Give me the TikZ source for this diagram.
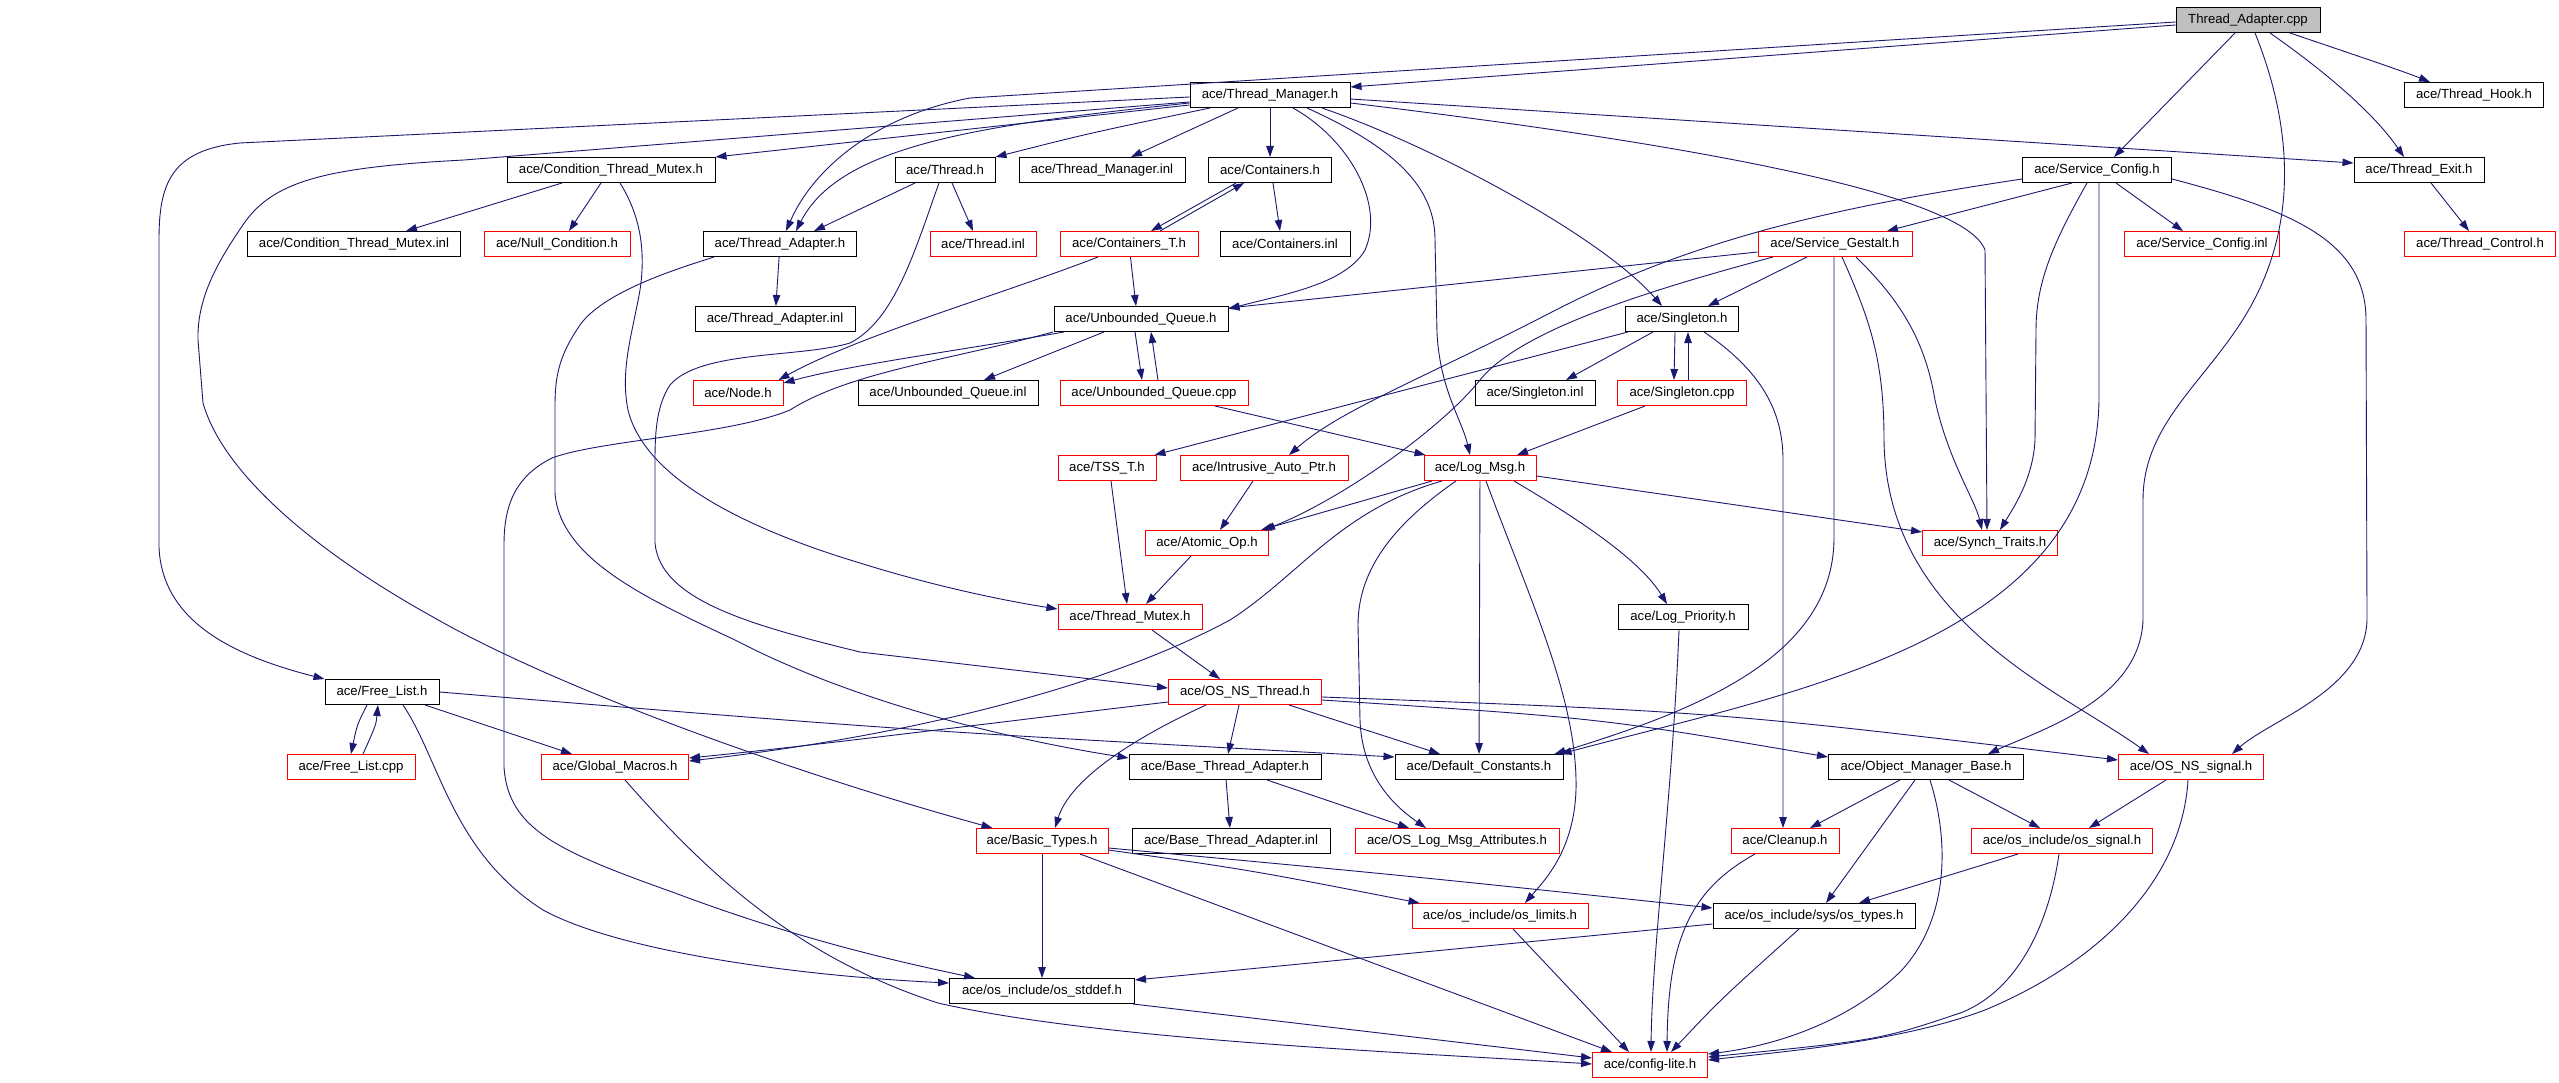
\documentclass[tikz,border=0pt]{standalone}
\usepackage{fontspec}
\setmainfont{Liberation Sans}
\usetikzlibrary{arrows.meta}
\definecolor{eblue}{RGB}{25,25,112}
\definecolor{gfill}{RGB}{191,191,191}
\newcommand\nodefnt{\fontsize{13.2pt}{15pt}\selectfont}
\tikzset{
  nbox/.style={draw=black, line width=1pt, minimum height=25pt, inner sep=0pt, font=\nodefnt, anchor=center},
  rnbox/.style={nbox, draw=red},
  dep/.style={draw=eblue, line width=0.9pt, -{Triangle[length=11pt,width=7.5pt]}},
}
\begin{document}
\begin{tikzpicture}[x=1pt,y=-1pt]
\fill[white] (0,0) rectangle (2559,1083);
\useasboundingbox (0,0) rectangle (2559,1083);
% nodes
\node[nbox,fill=gfill,minimum width=144pt] (tacpp) at (2248,20) {Thread\_Adapter.cpp};
\node[nbox,minimum width=139pt] (thook) at (2474,95) {ace/Thread\_Hook.h};
\node[nbox,minimum width=160pt] (tmgr) at (1270,95) {ace/Thread\_Manager.h};
\node[nbox,minimum width=208pt] (ctm) at (611,170) {ace/Condition\_Thread\_Mutex.h};
\node[nbox,minimum width=100pt] (thr) at (945,170) {ace/Thread.h};
\node[nbox,minimum width=166pt] (tminl) at (1102,170) {ace/Thread\_Manager.inl};
\node[nbox,minimum width=123pt] (cont) at (1270,170) {ace/Containers.h};
\node[nbox,minimum width=149pt] (sc) at (2097,170) {ace/Service\_Config.h};
\node[nbox,minimum width=130pt] (texit) at (2419,170) {ace/Thread\_Exit.h};
\node[nbox,minimum width=213pt] (ctminl) at (354,244) {ace/Condition\_Thread\_Mutex.inl};
\node[rnbox,minimum width=146pt] (nullc) at (557,244) {ace/Null\_Condition.h};
\node[nbox,minimum width=153pt] (tad) at (780,244) {ace/Thread\_Adapter.h};
\node[rnbox,minimum width=106pt] (thrinl) at (983,244) {ace/Thread.inl};
\node[rnbox,minimum width=138pt] (contt) at (1129,244) {ace/Containers\_T.h};
\node[nbox,minimum width=130pt] (continl) at (1285,244) {ace/Containers.inl};
\node[rnbox,minimum width=154pt] (sg) at (1835,244) {ace/Service\_Gestalt.h};
\node[rnbox,minimum width=155pt] (scinl) at (2202,244) {ace/Service\_Config.inl};
\node[rnbox,minimum width=151pt] (tctl) at (2480,244) {ace/Thread\_Control.h};
\node[nbox,minimum width=160pt] (tadinl) at (775,319) {ace/Thread\_Adapter.inl};
\node[nbox,minimum width=174pt] (uq) at (1141,319) {ace/Unbounded\_Queue.h};
\node[nbox,minimum width=113pt] (sing) at (1682,319) {ace/Singleton.h};
\node[rnbox,minimum width=90pt] (node) at (738,393) {ace/Node.h};
\node[nbox,minimum width=180pt] (uqinl) at (948,393) {ace/Unbounded\_Queue.inl};
\node[rnbox,minimum width=188pt] (uqcpp) at (1154,393) {ace/Unbounded\_Queue.cpp};
\node[nbox,minimum width=120pt] (singinl) at (1535,393) {ace/Singleton.inl};
\node[rnbox,minimum width=129pt] (singcpp) at (1682,393) {ace/Singleton.cpp};
\node[rnbox,minimum width=98pt] (tss) at (1107,468) {ace/TSS\_T.h};
\node[rnbox,minimum width=168pt] (iap) at (1264,468) {ace/Intrusive\_Auto\_Ptr.h};
\node[rnbox,minimum width=112pt] (logmsg) at (1480,468) {ace/Log\_Msg.h};
\node[rnbox,minimum width=123pt] (atomic) at (1207,543) {ace/Atomic\_Op.h};
\node[rnbox,minimum width=135pt] (synch) at (1990,543) {ace/Synch\_Traits.h};
\node[rnbox,minimum width=144pt] (tmutex) at (1130,617) {ace/Thread\_Mutex.h};
\node[nbox,minimum width=130pt] (logpri) at (1683,617) {ace/Log\_Priority.h};
\node[rnbox,minimum width=153pt] (osnsthr) at (1245,692) {ace/OS\_NS\_Thread.h};
\node[nbox,minimum width=114pt] (freelist) at (382,692) {ace/Free\_List.h};
\node[rnbox,minimum width=128pt] (flcpp) at (351,767) {ace/Free\_List.cpp};
\node[rnbox,minimum width=147pt] (gmac) at (615,767) {ace/Global\_Macros.h};
\node[nbox,minimum width=192pt] (bta) at (1225,767) {ace/Base\_Thread\_Adapter.h};
\node[nbox,minimum width=168pt] (defc) at (1479,767) {ace/Default\_Constants.h};
\node[nbox,minimum width=195pt] (omb) at (1926,767) {ace/Object\_Manager\_Base.h};
\node[rnbox,minimum width=145pt] (osnssig) at (2191,767) {ace/OS\_NS\_signal.h};
\node[rnbox,minimum width=132pt] (btypes) at (1042,841) {ace/Basic\_Types.h};
\node[nbox,minimum width=198pt] (btainl) at (1231,841) {ace/Base\_Thread\_Adapter.inl};
\node[rnbox,minimum width=204pt] (oslma) at (1457,841) {ace/OS\_Log\_Msg\_Attributes.h};
\node[rnbox,minimum width=108pt] (cleanup) at (1785,841) {ace/Cleanup.h};
\node[rnbox,minimum width=181pt] (ossig) at (2062,841) {ace/os\_include/os\_signal.h};
\node[rnbox,minimum width=176pt] (oslim) at (1500,916) {ace/os\_include/os\_limits.h};
\node[nbox,minimum width=202pt] (ostypes) at (1814,916) {ace/os\_include/sys/os\_types.h};
\node[nbox,minimum width=185pt] (osstd) at (1042,991) {ace/os\_include/os\_stddef.h};
\node[rnbox,minimum width=115pt] (cfg) at (1650,1065) {ace/config-lite.h};
% edges from Thread_Adapter.cpp
\draw[dep] ([yshift=-5]tacpp.west) -- ([yshift=8]tmgr.east);
\draw[dep] ([yshift=-2]tacpp.west) -- (970,98) .. controls (880,115) and (815,165) .. ([xshift=6]tad.north);
\draw[dep] ([xshift=-13]tacpp.south) -- ([xshift=17]sc.north);
\draw[dep] ([xshift=42]tacpp.south) .. controls (2340,50) and (2400,70) .. ([xshift=-44]thook.north);
\draw[dep] ([xshift=22]tacpp.south) .. controls (2330,75) and (2375,115) .. ([xshift=-15]texit.north);
\draw[dep] ([xshift=7]tacpp.south) .. controls (2290,120) and (2305,230) .. (2236,330) .. controls (2195,390) and (2143,430) .. (2143,500) -- (2143,620) .. controls (2140,700) and (2040,730) .. ([xshift=62]omb.north);
% Thread_Manager.h
\draw[dep] ([yshift=-2]tmgr.west) -- (240,143) .. controls (170,150) and (159,185) .. (159,240) -- (159,547) .. controls (162,620) and (230,655) .. (freelist.north west);
\draw[dep] ([yshift=-7]tmgr.west) -- (464,160) .. controls (330,167) and (275,180) .. (245,222) .. controls (215,265) and (197,300) .. (198,340) -- (203,403) .. controls (225,480) and (330,560) .. (433,617) .. controls (560,690) and (800,775) .. ([xshift=17]btypes.north west);
\draw[dep] ([yshift=-10]tmgr.west) -- (ctm.north east);
\draw[dep] ([yshift=-8]tmgr.west) .. controls (980,125) and (840,145) .. ([xshift=16]tad.north);
\draw[dep] ([xshift=-60]tmgr.south) .. controls (1090,133) .. (thr.north east);
\draw[dep] ([xshift=-32]tmgr.south) -- ([xshift=29]tminl.north);
\draw[dep] (tmgr) -- (cont);
\draw[dep] ([xshift=23]tmgr.south) .. controls (1350,140) and (1385,205) .. (1365,250) .. controls (1345,285) and (1280,295) .. ([yshift=-3]uq.north east);
\draw[dep] ([xshift=37]tmgr.south) .. controls (1400,150) and (1435,190) .. (1435,240) -- (1437,333) .. controls (1440,390) and (1462,420) .. ([xshift=-10]logmsg.north);
\draw[dep] ([xshift=52]tmgr.south) .. controls (1430,145) and (1600,235) .. ([xshift=-20]sing.north);
\draw[dep] ([yshift=-4]tmgr.east) -- ([yshift=7]texit.west);
\draw[dep] ([yshift=-8]tmgr.east) .. controls (1700,145) and (1965,195) .. (1985,250) -- ([xshift=-3]synch.north);
% Condition_Thread_Mutex.h
\draw[dep] ([xshift=-49]ctm.south) -- ([xshift=52]ctminl.north);
\draw[dep] ([xshift=-10]ctm.south) -- ([xshift=12]nullc.north);
\draw[dep] ([xshift=9]ctm.south) .. controls (640,215) and (646,250) .. (640,290) .. controls (632,335) and (620,370) .. (628,410) .. controls (645,480) and (750,530) .. (860,563) .. controls (930,585) and (1000,600) .. ([yshift=8]tmutex.west);
% Thread.h
\draw[dep] ([xshift=-30]thr.south) -- ([xshift=34]tad.north);
\draw[dep] ([xshift=7]thr.south) -- ([xshift=-10]thrinl.north);
\draw[dep] ([xshift=-6]thr.south) .. controls (915,250) and (895,320) .. (850,343) .. controls (800,358) and (700,350) .. (670,385) .. controls (657,405) and (655,430) .. (655,460) -- (655,543) .. controls (660,600) and (750,625) .. (860,652) -- ([yshift=4]osnsthr.west);
% Thread_Adapter.h
\draw[dep] (tad) -- (tadinl);
\draw[dep] ([xshift=-66]tad.south) .. controls (680,268) and (600,292) .. (578,328) .. controls (560,355) and (555,375) .. (555,405) -- (555,493) .. controls (560,560) and (650,600) .. (735,640) .. controls (850,700) and (1000,738) .. ([yshift=9]bta.west);
% Containers
\draw[dep] ([xshift=-34]cont.south) -- ([xshift=22]contt.north);
\draw[dep] ([xshift=31]contt.north) -- ([xshift=-26]cont.south);
\draw[dep] ([xshift=3]cont.south) -- ([xshift=-5]continl.north);
\draw[dep] (contt) -- ([xshift=-5]uq.north);
\draw[dep] ([xshift=-31]contt.south) .. controls (1000,295) and (860,335) .. ([xshift=-5]node.north east);
% Unbounded_Queue
\draw[dep] ([xshift=-77]uq.south) .. controls (950,352) and (850,365) .. ([yshift=-3]node.north east);
\draw[dep] ([xshift=-37]uq.south) -- ([xshift=36]uqinl.north);
\draw[dep] ([xshift=-6]uq.south) -- ([xshift=-12]uqcpp.north);
\draw[dep] ([xshift=4]uqcpp.north) -- ([xshift=10]uq.south);
\draw[dep] ([xshift=-88]uq.south) .. controls (950,360) and (850,372) .. (790,410) .. controls (730,435) and (600,440) .. (552,458) .. controls (512,478) and (504,510) .. (504,545) -- (504,767) .. controls (508,830) and (560,852) .. (675,893) .. controls (800,940) and (900,962) .. ([xshift=26]osstd.north west);
\draw[dep] ([xshift=61]uqcpp.south) -- ([xshift=2]logmsg.north west);
% Service_Config.h
\draw[dep] ([xshift=-25]sc.south) -- ([xshift=52]sg.north);
\draw[dep] ([xshift=19]sc.south) -- ([xshift=-19]scinl.north);
\draw[dep] ([yshift=-9]sc.west) .. controls (1850,205) and (1700,235) .. (1550,313) .. controls (1420,380) and (1340,410) .. ([xshift=25]iap.north);
\draw[dep] ([xshift=-10]sc.south) .. controls (2055,240) and (2036,280) .. (2036,330) -- (2035,440) .. controls (2033,480) and (2012,510) .. ([xshift=10]synch.north);
\draw[dep] ([xshift=2]sc.south) -- (2099,400) .. controls (2095,640) and (1800,690) .. ([xshift=-3]defc.north east);
\draw[dep] ([yshift=-9]sc.east) .. controls (2290,210) and (2366,240) .. (2366,320) -- (2367,620) .. controls (2365,690) and (2270,720) .. ([xshift=41]osnssig.north);
\draw[dep] ([xshift=12]texit.south) -- ([xshift=-11]tctl.north);
% Service_Gestalt.h
\draw[dep] ([yshift=-8]sg.west) -- ([yshift=11]uq.east);
\draw[dep] ([xshift=-28]sg.south) -- ([xshift=26]sing.north);
\draw[dep] ([xshift=-62]sg.south) .. controls (1650,290) and (1520,330) .. (1480,380) .. controls (1440,430) and (1340,500) .. ([xshift=-5]atomic.north east);
\draw[dep] ([xshift=-1]sg.south) -- (1834,540) .. controls (1832,660) and (1690,712) .. ([xshift=-9]defc.north east);
\draw[dep] ([xshift=7]sg.south) .. controls (1870,320) and (1884,360) .. (1884,440) .. controls (1886,620) and (2060,690) .. ([xshift=-42]osnssig.north);
\draw[dep] ([xshift=21]sg.south) .. controls (1900,300) and (1925,340) .. (1935,400) .. controls (1948,460) and (1975,500) .. ([xshift=-8]synch.north);
% Singleton
\draw[dep] ([xshift=-29]sing.south) -- ([xshift=31]singinl.north);
\draw[dep] ([xshift=-7]sing.south) -- ([xshift=-8]singcpp.north);
\draw[dep] ([xshift=6]singcpp.north) -- ([xshift=6]sing.south);
\draw[dep] ([xshift=-54]sing.south) -- ([xshift=-2]tss.north east);
\draw[dep] ([xshift=22]sing.south) .. controls (1760,370) and (1783,410) .. (1783,460) -- ([xshift=-2]cleanup.north);
\draw[dep] ([xshift=-37]singcpp.south) -- ([xshift=37]logmsg.north);
% middle
\draw[dep] ([xshift=4]tss.south) -- ([xshift=-3]tmutex.north);
\draw[dep] ([xshift=-11]iap.south) -- ([xshift=13]atomic.north);
\draw[dep] ([xshift=-16]atomic.south) -- ([xshift=16]tmutex.north);
\draw[dep] ([xshift=22]tmutex.south) -- ([xshift=-25]osnsthr.north);
% Log_Msg.h
\draw[dep] ([xshift=-48]logmsg.south) -- ([xshift=-8]atomic.north east);
\draw[dep] ([xshift=-38]logmsg.south) .. controls (1340,510) and (1300,575) .. (1230,620) .. controls (1100,690) and (900,737) .. ([yshift=6]gmac.east);
\draw[dep] ([xshift=-24]logmsg.south) .. controls (1400,520) and (1358,565) .. (1358,625) -- (1360,720) .. controls (1362,780) and (1400,810) .. ([xshift=-31]oslma.north);
\draw[dep] (logmsg) -- (defc);
\draw[dep] ([xshift=6]logmsg.south) .. controls (1530,600) and (1578,700) .. (1576,790) .. controls (1574,850) and (1545,880) .. ([xshift=25]oslim.north);
\draw[dep] ([xshift=34]logmsg.south) .. controls (1580,520) and (1640,560) .. ([xshift=-16]logpri.north);
\draw[dep] ([yshift=-8]logmsg.east) -- ([yshift=11]synch.west);
\draw[dep] ([xshift=-4]logpri.south) .. controls (1672,800) and (1652,950) .. ([xshift=1]cfg.north);
% OS_NS_Thread.h
\draw[dep] ([yshift=-10]osnsthr.west) .. controls (1000,722) and (820,745) .. ([yshift=9]gmac.east);
\draw[dep] ([xshift=-39]osnsthr.south) .. controls (1130,740) and (1070,780) .. ([xshift=13]btypes.north);
\draw[dep] ([xshift=-6]osnsthr.south) -- ([xshift=3]bta.north);
\draw[dep] ([xshift=44]osnsthr.south) -- ([xshift=-39]defc.north);
\draw[dep] ([yshift=-8]osnsthr.east) .. controls (1600,718) .. ([yshift=10]omb.west);
\draw[dep] ([yshift=-5]osnsthr.east) .. controls (1720,712) .. ([yshift=7]osnssig.west);
% Free_List
\draw[dep] ([xshift=-15]freelist.south) .. controls (357,725) .. (flcpp.north);
\draw[dep] ([xshift=12]flcpp.north) .. controls (376,725) .. ([xshift=-4]freelist.south);
\draw[dep] ([xshift=43]freelist.south) -- ([xshift=-43]gmac.north);
\draw[dep] (freelist.east) .. controls (900,730) .. ([yshift=10]defc.west);
\draw[dep] ([xshift=21]freelist.south) .. controls (440,760) and (452,852) .. (543,910) .. controls (620,952) and (800,976) .. ([yshift=8]osstd.west);
% Global_Macros
\draw[dep] ([xshift=10]gmac.south) .. controls (700,865) and (790,955) .. (938,1003) .. controls (1100,1040) and (1400,1052) .. ([yshift=1]cfg.west);
% Basic_Types
\draw[dep] (btypes) -- (osstd);
\draw[dep] ([xshift=38]btypes.south) -- ([xshift=-38]cfg.north);
\draw[dep] ([yshift=-9]btypes.east) .. controls (1250,870) .. ([xshift=8]oslim.north west);
\draw[dep] ([yshift=-7]btypes.east) .. controls (1400,875) .. ([yshift=8]ostypes.west);
\draw[dep] ([xshift=-2]osstd.south east) -- ([yshift=7]cfg.west);
\draw[dep] ([xshift=13]oslim.south) -- ([xshift=-21]cfg.north);
% Base_Thread_Adapter
\draw[dep] (bta) -- (btainl);
\draw[dep] ([xshift=42]bta.south) -- ([xshift=-48]oslma.north);
% Object_Manager_Base
\draw[dep] ([xshift=-26]omb.south) -- ([xshift=25]cleanup.north);
\draw[dep] ([xshift=-11]omb.south) -- ([xshift=12]ostypes.north);
\draw[dep] ([xshift=4]omb.south) .. controls (1952,850) and (1945,925) .. (1900,972) .. controls (1850,1020) and (1780,1045) .. ([yshift=11]cfg.east);
\draw[dep] ([xshift=23]omb.south) -- ([xshift=-22]ossig.north);
% OS_NS_signal
\draw[dep] ([xshift=-25]osnssig.south) -- ([xshift=27]ossig.north);
\draw[dep] ([xshift=-3]osnssig.south) .. controls (2182,880) and (2100,962) .. (1985,1010) .. controls (1900,1042) and (1780,1052) .. ([yshift=5]cfg.east);
% os_signal
\draw[dep] ([xshift=-44]ossig.south) -- ([xshift=45]ostypes.north);
\draw[dep] ([xshift=-3]ossig.south) .. controls (2048,930) and (2015,990) .. (1963,1012) .. controls (1880,1040) .. ([yshift=8]cfg.east);
% Cleanup, os_types
\draw[dep] ([xshift=-30]cleanup.south) .. controls (1690,890) and (1668,940) .. ([xshift=17]cfg.north);
\draw[dep] ([yshift=-8]ostypes.west) -- ([yshift=11]osstd.east);
\draw[dep] ([xshift=-15]ostypes.south) .. controls (1720,1000) .. ([xshift=21]cfg.north);
\end{tikzpicture}
\end{document}
